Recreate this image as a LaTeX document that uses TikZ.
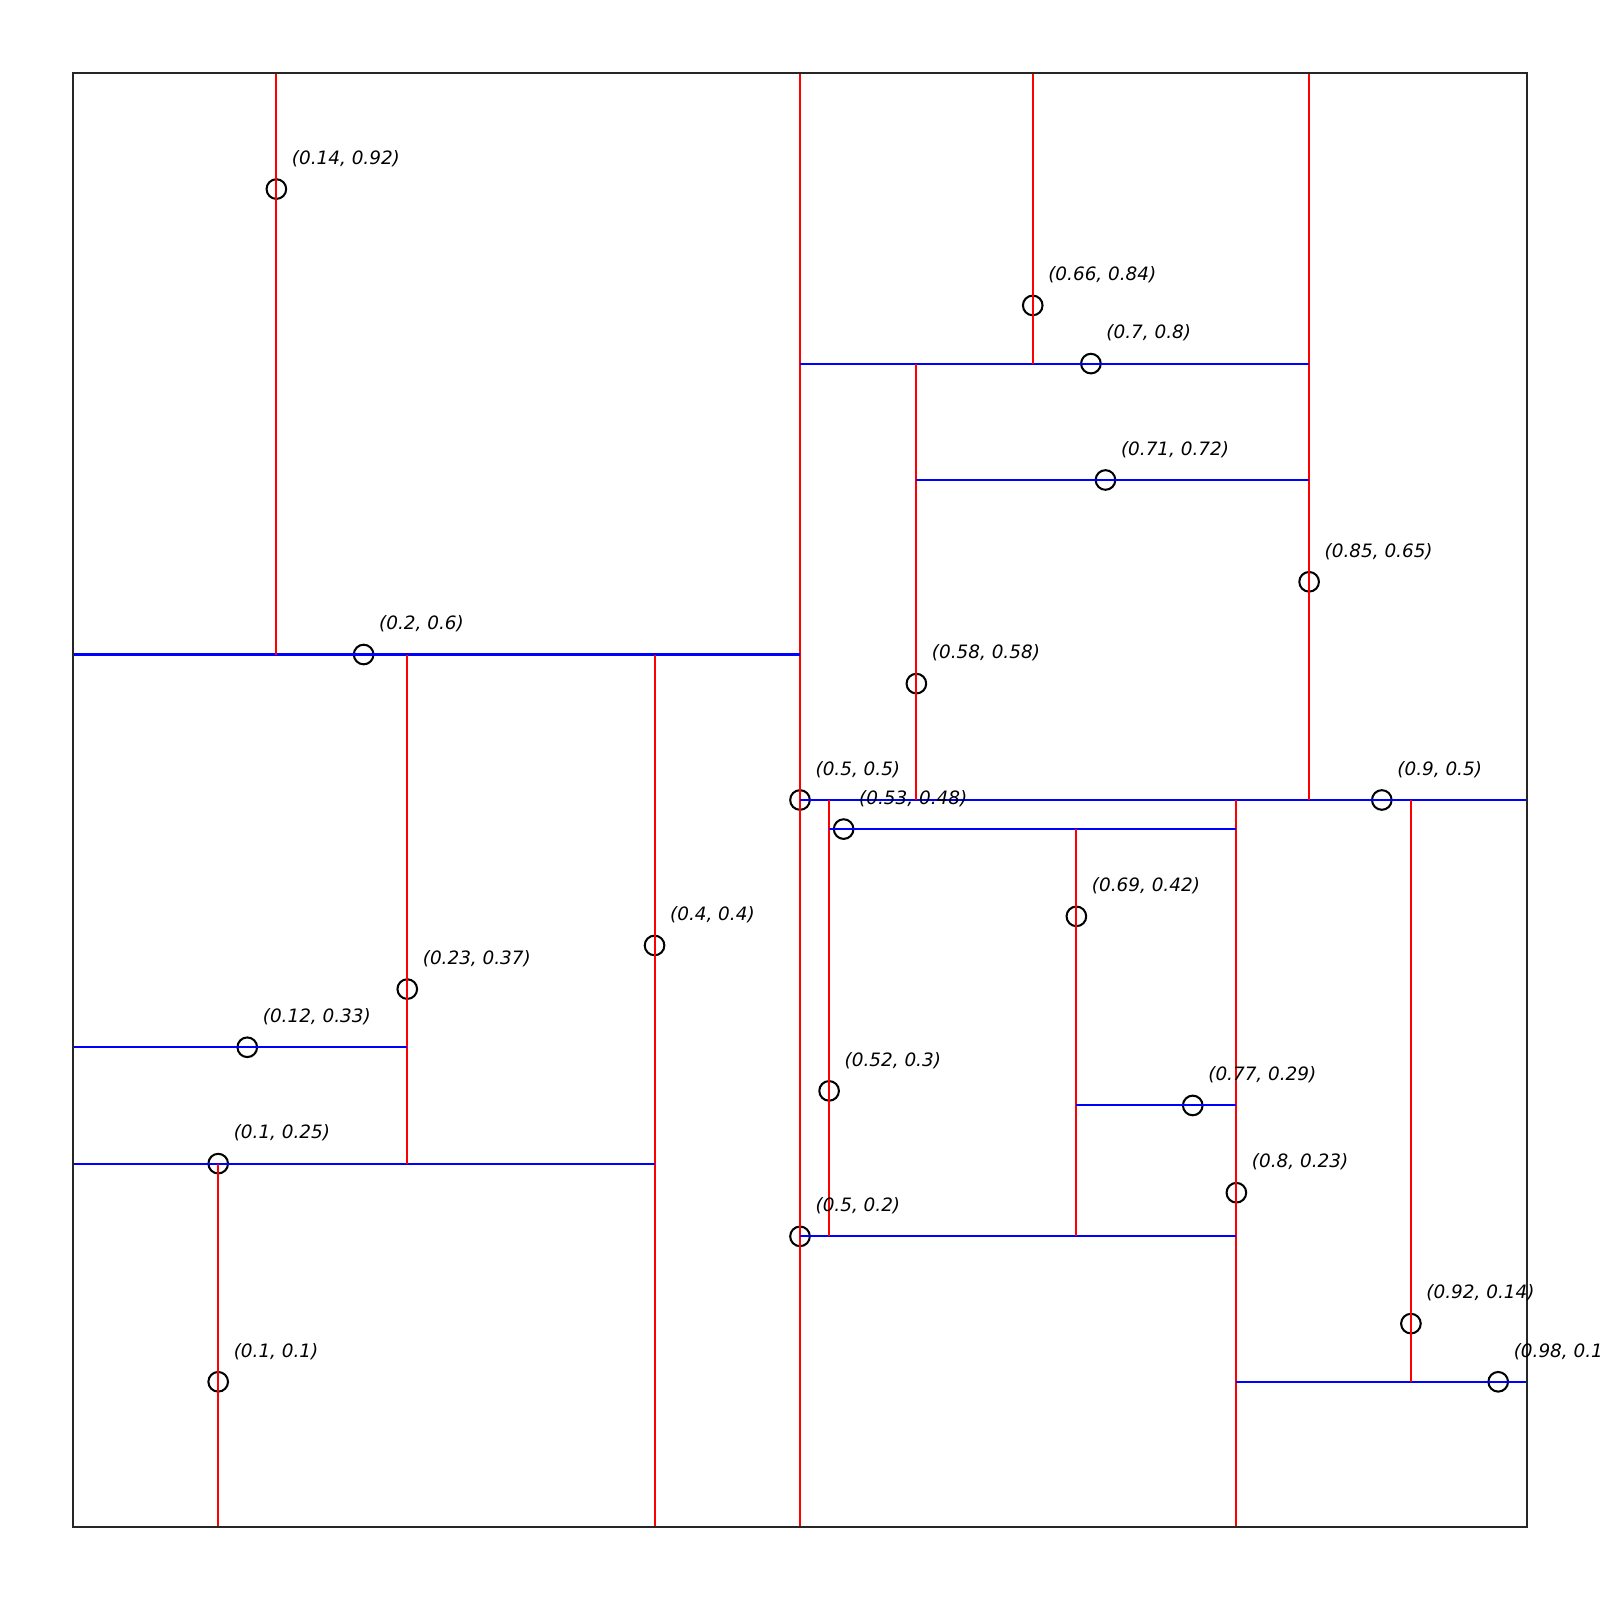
\documentclass[tikz,border=0pt]{standalone}
\usepackage{fontspec}
\newfontfamily\lblfont{DejaVu Sans}
\def\kdpoints{0.5/0.5, 0.2/0.6, 0.14/0.92, 0.4/0.4, 0.1/0.25, 0.1/0.1, 0.23/0.37, 0.12/0.33,
  0.9/0.5, 0.85/0.65, 0.7/0.8, 0.66/0.84, 0.58/0.58, 0.71/0.72, 0.8/0.23, 0.5/0.2,
  0.52/0.3, 0.53/0.48, 0.69/0.42, 0.77/0.29, 0.98/0.1, 0.92/0.14}
\begin{document}
\begin{tikzpicture}[x=10cm, y=10cm,
    pt/.style={circle, draw, line width=0.4pt, minimum size=0.135cm, inner sep=0pt},
    vsplit/.style={red, line width=0.4pt},
    hsplit/.style={blue, line width=0.4pt},
    lbl/.style={anchor=west, inner sep=0pt, font=\lblfont\itshape\fontsize{3.6}{4.2}\selectfont}]

    \useasboundingbox (-0.05,-0.05) rectangle (1.05,1.05);

    % Points
    \foreach \px/\py [count=\i] in \kdpoints
        \node[pt] (p\i) at (\px,\py) {};

    % Left half
    \draw[vsplit] (0.5,0) -- (0.5,1);
    \draw[hsplit] (0,0.6) -- (0.5,0.6);
    \draw[vsplit] (0.14,0.6) -- (0.14,1);
    \draw[vsplit] (0.4,0) -- (0.4,0.6);
    \draw[hsplit] (0,0.25) -- (0.4,0.25);
    \draw[vsplit] (0.1,0) -- (0.1,0.25);
    \draw[vsplit] (0.23,0.25) -- (0.23,0.6);
    \draw[hsplit] (0,0.33) -- (0.23,0.33);

    % Right half, top
    \draw[hsplit] (0.5,0.5) -- (1,0.5);
    \draw[vsplit] (0.85,0.5) -- (0.85,1);
    \draw[hsplit] (0.5,0.8) -- (0.85,0.8);
    \draw[vsplit] (0.66,0.8) -- (0.66,1);
    \draw[vsplit] (0.58,0.5) -- (0.58,0.8);
    \draw[hsplit] (0.58,0.72) -- (0.85,0.72);

    % Right half, bottom
    \draw[vsplit] (0.8,0) -- (0.8,0.5);
    \draw[hsplit] (0.5,0.2) -- (0.8,0.2);
    \draw[vsplit] (0.52,0.2) -- (0.52,0.5);
    \draw[hsplit] (0.52,0.48) -- (0.8,0.48);
    \draw[vsplit] (0.69,0.2) -- (0.69,0.48);
    \draw[hsplit] (0.69,0.29) -- (0.8,0.29);
    \draw[hsplit] (0.8,0.1) -- (1,0.1);
    \draw[vsplit] (0.92,0.1) -- (0.92,0.5);

    % Frame
    \draw[line width=0.45pt, black!85] (0,0) rectangle (1,1);

    % Labels
    \foreach \px/\py [count=\i] in \kdpoints
        \node[lbl] at ([shift={(0.1cm,0.21cm)}]p\i.center) {(\px, \py)};
\end{tikzpicture}
\end{document}
